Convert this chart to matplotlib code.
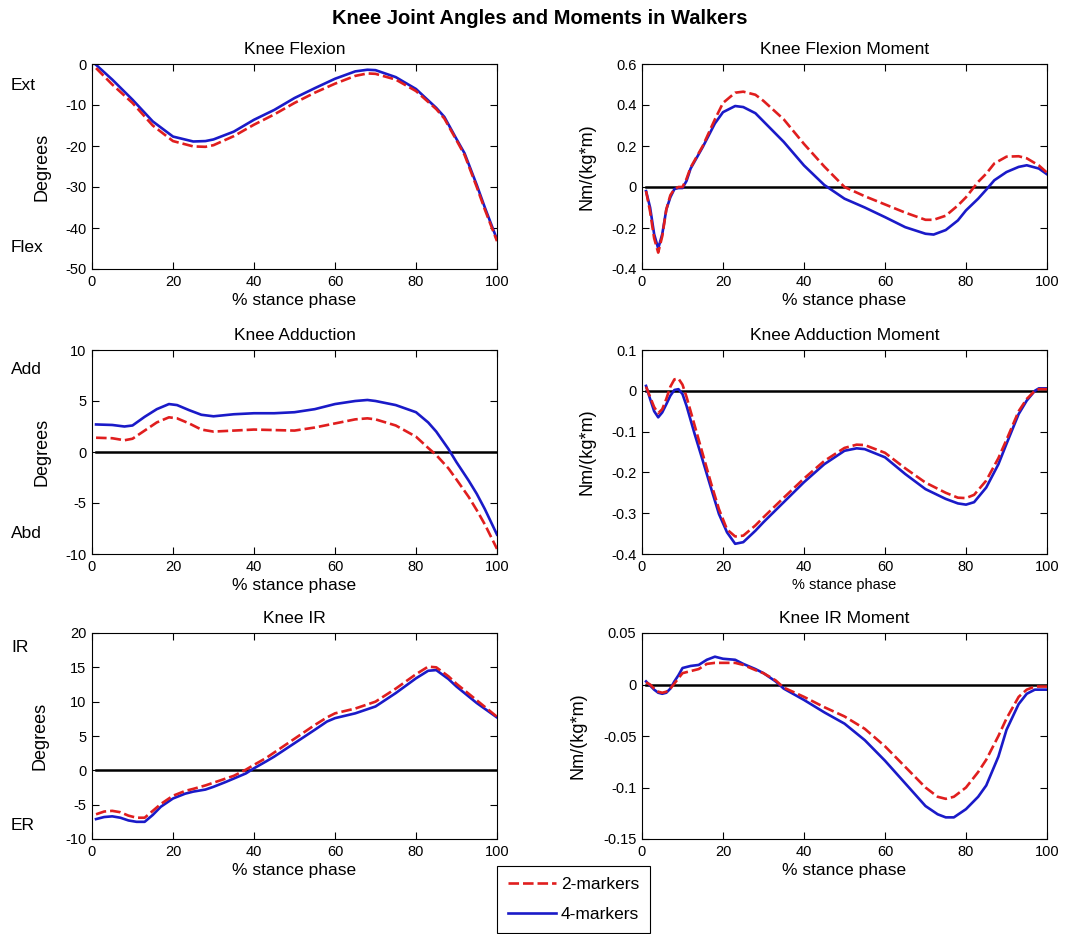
import matplotlib
matplotlib.use("Agg")
import matplotlib.pyplot as plt
from matplotlib.lines import Line2D

plt.rcParams["font.family"] = ["Liberation Sans", "DejaVu Sans"]
plt.rcParams["axes.unicode_minus"] = False

RED = "#e01e1e"
BLUE = "#1a1ac8"
DASH = (0, (4.0, 1.5))

# ---- Knee Flexion (deg) ----
X_FLEX = [1, 5, 10, 15, 20, 25, 28, 30, 35, 40, 45, 50, 55, 60, 65, 68, 70, 75, 80, 85, 87, 90, 92, 95, 97, 100]
FLEX_4 = [-0.2, -3.8, -8.7, -14.0, -17.7, -18.9, -18.8, -18.4, -16.5, -13.6, -11.2, -8.3, -5.9, -3.6, -1.8, -1.4,
          -1.5, -3.2, -6.1, -10.7, -12.9, -18.3, -21.8, -29.5, -35.0, -42.8]
FLEX_2 = [-1.0, -5.0, -9.5, -15.0, -18.8, -20.1, -20.2, -19.8, -17.6, -14.8, -12.3, -9.5, -7.0, -4.8, -2.9, -2.3,
          -2.4, -3.8, -6.6, -11.0, -13.3, -18.6, -22.2, -30.0, -35.5, -43.2]

# ---- Knee Flexion Moment ----
X_FLEXM = [1, 2, 3, 4, 5, 6, 7, 8, 9, 10, 11, 12, 15, 18, 20, 23, 25, 28, 30, 35, 40, 45, 50, 55, 60, 65, 70, 72,
           75, 78, 80, 83, 85, 87, 90, 93, 95, 98, 100]
FLEXM_4 = [-0.02, -0.10, -0.23, -0.30, -0.23, -0.11, -0.05, -0.01, -0.005, -0.005, 0.03, 0.09, 0.195, 0.31, 0.365,
           0.395, 0.39, 0.36, 0.32, 0.22, 0.105, 0.01, -0.057, -0.10, -0.147, -0.196, -0.228, -0.232, -0.21, -0.163,
           -0.114, -0.057, -0.013, 0.033, 0.073, 0.098, 0.106, 0.09, 0.062]
FLEXM_2 = [-0.02, -0.12, -0.25, -0.32, -0.24, -0.11, -0.04, -0.01, 0.0, 0.0, 0.04, 0.095, 0.20, 0.33, 0.41, 0.46,
           0.465, 0.45, 0.42, 0.33, 0.21, 0.10, 0.0, -0.045, -0.085, -0.125, -0.16, -0.16, -0.14, -0.09, -0.05,
           0.025, 0.065, 0.115, 0.148, 0.15, 0.14, 0.105, 0.07]

# ---- Knee Adduction (deg) ----
X_ADD = [1, 5, 8, 10, 13, 16, 19, 21, 24, 27, 30, 35, 40, 45, 50, 55, 60, 65, 68, 70, 75, 80, 83, 85, 88, 90, 93,
         95, 97, 100]
ADD_4 = [2.7, 2.65, 2.5, 2.6, 3.45, 4.2, 4.7, 4.6, 4.1, 3.65, 3.5, 3.7, 3.8, 3.8, 3.9, 4.2, 4.7, 5.0, 5.1, 5.0, 4.6,
         3.9, 2.9, 2.0, 0.3, -1.0, -2.8, -4.1, -5.6, -8.1]
ADD_2 = [1.4, 1.35, 1.15, 1.3, 2.1, 2.9, 3.4, 3.3, 2.8, 2.2, 2.0, 2.1, 2.2, 2.15, 2.1, 2.4, 2.8, 3.2, 3.3, 3.2, 2.6,
         1.5, 0.4, -0.3, -1.6, -2.7, -4.4, -5.7, -7.1, -9.5]

# ---- Knee Adduction Moment ----
X_ADDM = [1, 2, 3, 4, 5, 6, 7, 8, 9, 10, 11, 13, 15, 17, 19, 21, 23, 25, 28, 30, 35, 40, 45, 50, 53, 55, 60, 65,
          70, 75, 78, 80, 82, 85, 88, 90, 93, 95, 97, 98, 100]
ADDM_4 = [0.012, -0.02, -0.05, -0.065, -0.053, -0.033, -0.012, 0.002, 0.004, -0.008, -0.037, -0.106, -0.171,
          -0.237, -0.302, -0.347, -0.375, -0.371, -0.343, -0.322, -0.273, -0.224, -0.18, -0.147, -0.141, -0.143,
          -0.163, -0.204, -0.241, -0.265, -0.276, -0.279, -0.273, -0.237, -0.18, -0.13, -0.057, -0.024, 0.0,
          0.006, 0.006]
ADDM_2 = [0.01, -0.015, -0.04, -0.055, -0.045, -0.02, 0.01, 0.028, 0.03, 0.015, -0.015, -0.085, -0.155, -0.225,
          -0.29, -0.34, -0.357, -0.355, -0.33, -0.31, -0.262, -0.215, -0.172, -0.14, -0.132, -0.133, -0.152,
          -0.19, -0.225, -0.25, -0.262, -0.263, -0.255, -0.22, -0.165, -0.12, -0.05, -0.02, 0.0, 0.004, 0.004]

# ---- Knee IR (deg) ----
X_IR = [1, 3, 5, 7, 9, 11, 13, 15, 17, 20, 23, 25, 28, 30, 33, 35, 38, 40, 43, 45, 50, 55, 58, 60, 65, 70, 75, 80,
        83, 85, 88, 90, 95, 100]
IR_4 = [-7.1, -6.8, -6.7, -6.9, -7.3, -7.5, -7.5, -6.5, -5.3, -4.1, -3.4, -3.1, -2.8, -2.4, -1.7, -1.2, -0.45, 0.3,
        1.3, 2.0, 3.95, 5.9, 7.1, 7.6, 8.3, 9.3, 11.25, 13.4, 14.5, 14.6, 13.3, 12.2, 9.8, 7.7]
IR_2 = [-6.4, -6.0, -5.9, -6.1, -6.6, -6.9, -6.9, -5.9, -4.9, -3.7, -3.0, -2.7, -2.2, -1.8, -1.2, -0.8, 0.1, 0.8,
        1.8, 2.6, 4.6, 6.6, 7.7, 8.3, 9.0, 10.0, 11.9, 14.0, 15.1, 15.0, 13.7, 12.6, 10.2, 7.8]

# ---- Knee IR Moment ----
X_IRM = [1, 2, 3, 4, 5, 6, 7, 8, 9, 10, 12, 14, 16, 18, 20, 23, 25, 28, 30, 33, 35, 40, 45, 50, 55, 60, 65, 70, 73,
         75, 77, 80, 83, 85, 88, 90, 93, 95, 97, 100]
IRM_4 = [0.003, -0.001, -0.005, -0.008, -0.009, -0.008, -0.004, 0.003, 0.009, 0.016, 0.018, 0.019, 0.024, 0.027,
         0.025, 0.024, 0.02, 0.015, 0.011, 0.003, -0.004, -0.015, -0.027, -0.038, -0.054, -0.074, -0.096, -0.118,
         -0.126, -0.129, -0.129, -0.121, -0.109, -0.098, -0.07, -0.044, -0.019, -0.009, -0.005, -0.005]
IRM_2 = [0.002, 0.0, -0.004, -0.007, -0.008, -0.007, -0.004, 0.001, 0.006, 0.011, 0.013, 0.015, 0.02, 0.021, 0.021,
         0.021, 0.019, 0.014, 0.011, 0.004, -0.003, -0.012, -0.022, -0.031, -0.043, -0.06, -0.08, -0.1, -0.109,
         -0.111, -0.109, -0.1, -0.085, -0.073, -0.05, -0.033, -0.012, -0.005, -0.002, -0.002]

W, H = 1079, 934


def px_axes(fig, left, top, right, bottom):
    return fig.add_axes([left / W, 1 - bottom / H, (right - left) / W, (bottom - top) / H])


def panel(ax, x, two, four, title, ylabel, ylim, yticks, zero_line=True, ylab_x=-0.105, xlab_size=12.5):
    if zero_line:
        ax.plot([1, 100], [0, 0], color="black", lw=1.8, zorder=1)
    ax.plot(x, two, color=RED, lw=1.9, ls=DASH, zorder=3)
    ax.plot(x, four, color=BLUE, lw=1.9, zorder=2)
    ax.set_xlim(0, 100)
    ax.set_ylim(*ylim)
    ax.set_xticks([0, 20, 40, 60, 80, 100])
    ax.set_yticks(yticks)
    ax.set_yticklabels([f"{t:g}" for t in yticks])
    ax.tick_params(direction="in", top=True, right=True, length=5, width=0.8, labelsize=10.5, pad=4)
    for s in ax.spines.values():
        s.set_linewidth(0.8)
    ax.set_title(title, fontsize=12.5, pad=7)
    ax.set_xlabel("% stance phase", fontsize=xlab_size, labelpad=3)
    ax.set_ylabel(ylabel, fontsize=13)
    ax.yaxis.set_label_coords(ylab_x, 0.5)


fig = plt.figure(figsize=(W / 100, H / 100), dpi=100)

ax1 = px_axes(fig, 92, 64, 497, 269)
panel(ax1, X_FLEX, FLEX_2, FLEX_4, "Knee Flexion", "Degrees", (-50, 0), [-50, -40, -30, -20, -10, 0],
      zero_line=False, ylab_x=-0.103)
ax2 = px_axes(fig, 642, 64, 1047, 269)
panel(ax2, X_FLEXM, FLEXM_2, FLEXM_4, "Knee Flexion Moment", "Nm/(kg*m)", (-0.4, 0.6),
      [-0.4, -0.2, 0, 0.2, 0.4, 0.6], ylab_x=-0.116)
ax3 = px_axes(fig, 92, 350, 497, 554)
panel(ax3, X_ADD, ADD_2, ADD_4, "Knee Adduction", "Degrees", (-10, 10), [-10, -5, 0, 5, 10], ylab_x=-0.103)
ax4 = px_axes(fig, 642, 350, 1047, 554)
panel(ax4, X_ADDM, ADDM_2, ADDM_4, "Knee Adduction Moment", "Nm/(kg*m)", (-0.4, 0.1),
      [-0.4, -0.3, -0.2, -0.1, 0, 0.1], ylab_x=-0.116, xlab_size=10.5)
ax5 = px_axes(fig, 92, 633, 497, 839)
panel(ax5, X_IR, IR_2, IR_4, "Knee IR", "Degrees", (-10, 20), [-10, -5, 0, 5, 10, 15, 20], ylab_x=-0.108)
ax6 = px_axes(fig, 642, 633, 1047, 839)
panel(ax6, X_IRM, IRM_2, IRM_4, "Knee IR Moment", "Nm/(kg*m)", (-0.15, 0.05),
      [-0.15, -0.1, -0.05, 0, 0.05], ylab_x=-0.136)

# direction labels on the left edge
for label, ypx in [("Ext", 85), ("Flex", 248), ("Add", 370), ("Abd", 533), ("IR", 648), ("ER", 826)]:
    fig.text(11 / W, 1 - ypx / H, label, fontsize=12.5, ha="left", va="center")

fig.text(0.5, 1 - 18 / H, "Knee Joint Angles and Moments in Walkers", fontsize=14.5,
         fontweight="bold", ha="center", va="center")

handles = [Line2D([], [], color=RED, lw=1.9, ls=DASH),
           Line2D([], [], color=BLUE, lw=1.9)]
leg = fig.legend(handles, ["2-markers", "4-markers"], loc="lower left",
                 bbox_to_anchor=(497 / W, 1 / H), fontsize=12.5, frameon=True, fancybox=False,
                 framealpha=1, edgecolor="black", handlelength=2.8, handletextpad=0.25,
                 labelspacing=0.85, borderpad=0.62, borderaxespad=0)
leg.get_frame().set_linewidth(0.8)

fig.savefig("out.png", dpi=100)
